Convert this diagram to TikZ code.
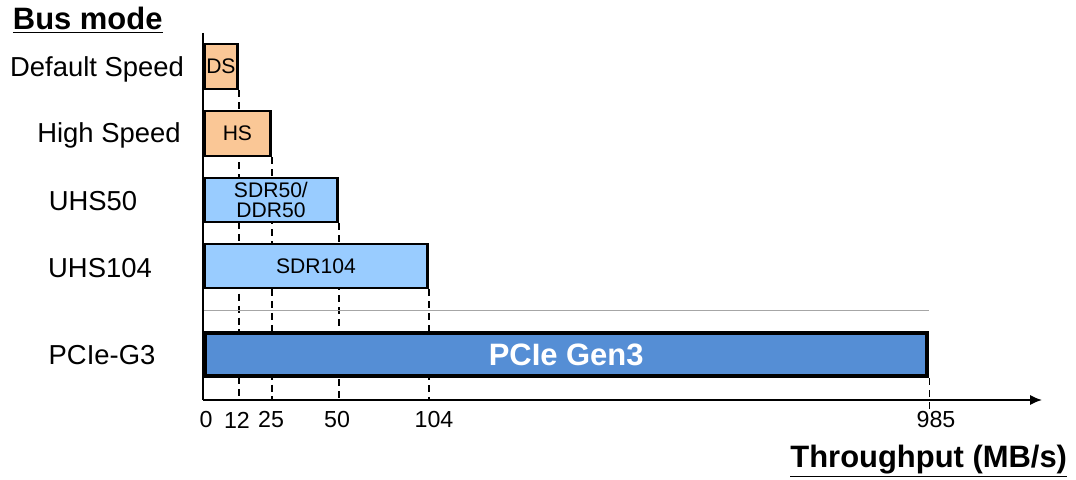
\documentclass[tikz,border=0pt]{standalone}
\usepackage{fontspec}
\setmainfont{Liberation Sans}
\usepackage{xcolor}
\usetikzlibrary{positioning,arrows.meta,calc}
\definecolor{sdorange}{RGB}{250, 199, 150}
\definecolor{uhsblue}{RGB}{153, 204, 255}
\definecolor{pcieblue}{RGB}{85, 142, 213}
\pgfdeclarelayer{background}
\pgfsetlayers{background,main}

\begin{document}
\begin{tikzpicture}[
  x=0.025cm, y=-0.025cm,
  bar/.style={rectangle, draw, line width=2pt, anchor=west, inner sep=0pt, align=center, font=\fontsize{15}{13.8}\selectfont},
  mode/.style={font=\fontsize{19.5}{22}\selectfont},
  tick/.style={font=\fontsize{16.5}{18}\selectfont, inner sep=0pt},
  guide/.style={dashed, line width=1pt, dash pattern=on 5pt off 3.5pt},
  axis/.style={line width=1.4pt},
  title/.style={font=\fontsize{22}{24}\selectfont\bfseries}
]
\useasboundingbox (0,0) rectangle (1076,479);

% Axes
\coordinate (origin) at (203,400);
\coordinate (ytop) at (203,33);
\coordinate (xend) at (1042,400);
\coordinate (sep) at (203,310);
\coordinate (low) at (203,410);

% Bars
\node[bar, fill=sdorange, minimum width=0.825cm, minimum height=1.125cm] (ds) at (203,66.5) {DS};
\node[bar, fill=sdorange, minimum width=1.65cm, minimum height=1.125cm] (hs) at (203,133.5) {HS};
\node[bar, fill=uhsblue, minimum width=3.325cm, minimum height=1.1cm] (sdr50) at (203,200) {SDR50/\\DDR50};
\node[bar, fill=uhsblue, minimum width=5.575cm, minimum height=1.1cm] (sdr104) at (203,266) {SDR104};
\node[bar, fill=pcieblue, line width=3pt, minimum width=18.05cm, minimum height=1.075cm, text=white, font=\fontsize{22}{24}\selectfont\bfseries] (pcie) at (203,354.5) {PCIe Gen3};

% Guides
\begin{pgfonlayer}{background}
\draw[guide] (ds.south east) -- (ds.south east |- origin);
\draw[guide] (hs.south east) -- (hs.south east |- origin);
\draw[guide] (sdr50.south east) -- (sdr50.south east |- origin);
\draw[guide] (sdr104.south east) -- (sdr104.south east |- origin);
\draw[guide] (pcie.south east) -- (pcie.south east |- low);
\draw[gray!70, line width=0.6pt] (sep) -- (sep -| pcie.east);
\draw[axis] (ytop) -- (origin);
\end{pgfonlayer}
\draw[axis, -{Latex[length=0.3cm, width=0.26cm]}] (origin) -- (xend);

% Row labels
\node[mode] (lds) at (97,69) {Default Speed};
\node[mode] (lhs) at (109,135) {High Speed};
\node[mode] (l50) at (93,201) {UHS50};
\node[mode] (l104) at (100,268) {UHS104};
\node[mode] (lpcie) at (102,355) {PCIe-G3};

% Ticks
\node[tick] (t0) at (206,420) {0};
\node[tick] (t12) at (237,420) {12};
\node[tick] (t25) at (271,420) {25};
\node[tick] (t50) at (337,420) {50};
\node[tick] (t104) at (434,420) {104};
\node[tick] (t985) at (936,420) {985};

% Titles
\node[title, anchor=west] (busmode) at (8,20) {\underline{Bus mode}};
\node[title, anchor=east] (thru) at (1072,461) {\underline{Throughput (MB/s)}};

\end{tikzpicture}
\end{document}
